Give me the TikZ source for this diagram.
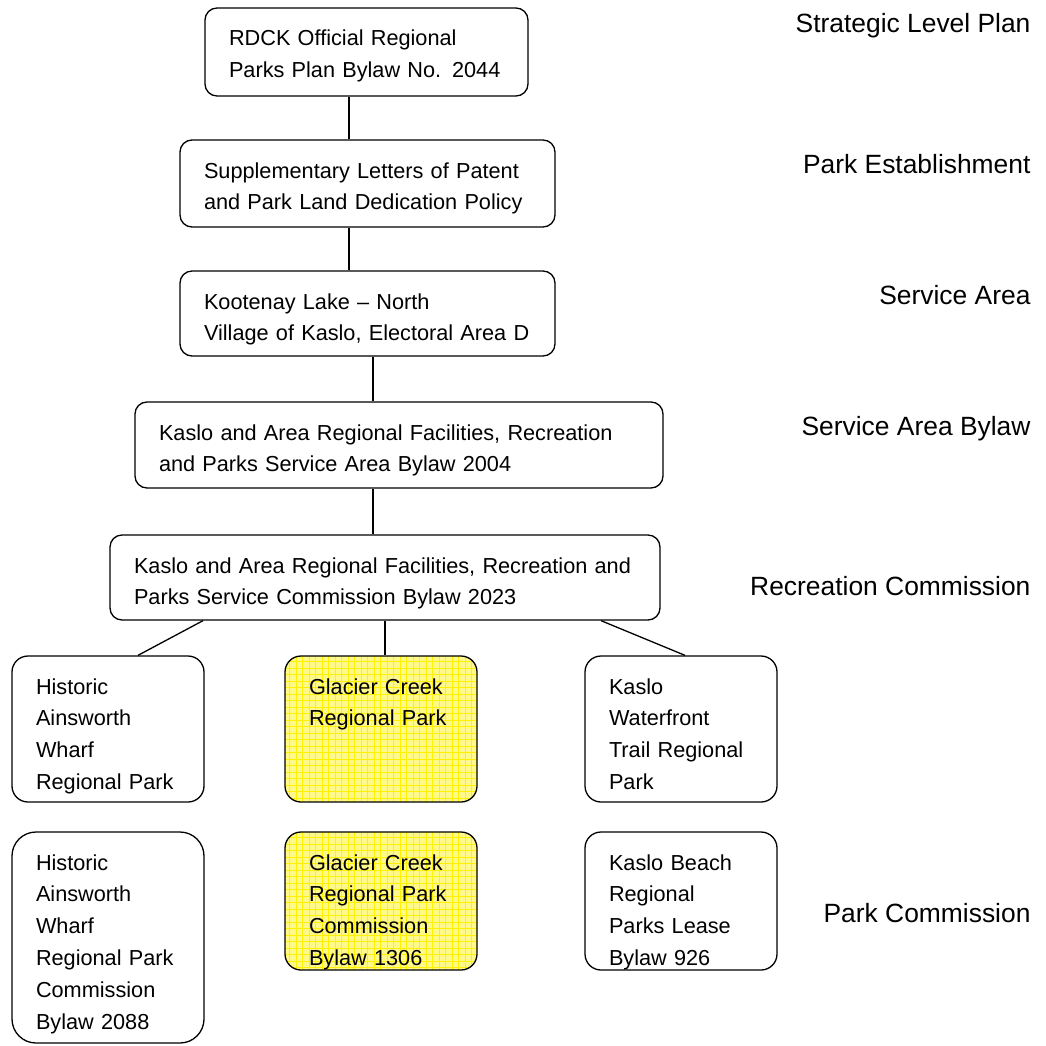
\documentclass[tikz,border=0pt]{standalone}
\usepackage{fontspec}
\setmainfont{Liberation Sans}
\usetikzlibrary{positioning}

\tikzset{
  box/.style={rectangle, draw, line width=1.3pt, rounded corners=12pt, align=left,
    inner xsep=24pt, inner ysep=18pt, text height=20pt,
    font=\fontsize{21.7}{31.8}\selectfont},
  park/.style={box, rounded corners=16pt, text width=144pt, text depth=90pt},
  hilite/.style={fill=yellow!45, path picture={
    \draw[yellow, line width=0.9pt] (path picture bounding box.south west)
      grid[step=6.5pt] (path picture bounding box.north east);}},
  level/.style={anchor=base east, font=\fontsize{26.4}{32}\selectfont},
}

\begin{document}
\begin{tikzpicture}[x=1pt, y=-1pt, on grid]
\useasboundingbox (0,0) rectangle (1046,1046);

% chain of plans and bylaws
\node (plan) [box, text width=275pt, text depth=32pt] at (366.5,52) {RDCK Official Regional\\Parks Plan Bylaw No. 2044};
\node (estab) [box, text width=327pt, text depth=31pt, below right=131.5pt and 1pt of plan] {Supplementary Letters of Patent\\and Park Land Dedication Policy};
\node (area) [box, text width=327pt, text depth=29pt, below=130pt of estab] {Kootenay Lake -- North\\Village of Kaslo, Electoral Area D};
\node (bylaw) [box, text width=480pt, text depth=30pt, below right=131.5pt and 31.5pt of area] {Kaslo and Area Regional Facilities, Recreation\\and Parks Service Area Bylaw 2004};
\node (comm) [box, text width=502pt, text depth=29pt, below left=132.5pt and 14pt of bylaw] {Kaslo and Area Regional Facilities, Recreation and\\Parks Service Commission Bylaw 2023};

% parks
\node (glacP) [park, hilite, below left=151.5pt and 4pt of comm] {Glacier Creek\\Regional Park};
\node (ainsP) [park, left=273pt of glacP] {Historic\\Ainsworth\\Wharf\\Regional Park};
\node (kasP) [park, right=300pt of glacP] {Kaslo\\Waterfront\\Trail Regional\\Park};

% park bylaws
\node (glacB) [park, hilite, text depth=82pt, below=172pt of glacP] {Glacier Creek\\Regional Park\\Commission\\Bylaw 1306};
\node (ainsB) [park, rounded corners=24pt, text depth=155pt, below=208.5pt of ainsP] {Historic\\Ainsworth\\Wharf\\Regional Park\\Commission\\Bylaw 2088};
\node (kasB) [park, text depth=82pt, below=172pt of kasP] {Kaslo Beach\\Regional\\Parks Lease\\Bylaw 926};

% levels
\node (lplan) [level] at (1034,33) {Strategic Level Plan};
\node (lestab) [level] at (1034,173) {Park Establishment};
\node (larea) [level] at (1034,304) {Service Area};
\node (lbylaw) [level] at (1034,435) {Service Area Bylaw};
\node (lcomm) [level] at (1034,595) {Recreation Commission};
\node (lpark) [level] at (1034,922) {Park Commission};

\coordinate (c1) at (349,0);
\coordinate (c2) at (373,0);
\coordinate (c3) at (385,0);
\coordinate (tl) at (203,0);
\coordinate (tr) at (601,0);
\coordinate (bl) at (138,0);
\coordinate (br) at (685,0);

\path [line width=1.3pt]
    (plan.south -| c1) edge (estab.north -| c1)
    (estab.south -| c1) edge (area.north -| c1)
    (area.south -| c2) edge (bylaw.north -| c2)
    (bylaw.south -| c2) edge (comm.north -| c2)

    (comm.south -| c3) edge (glacP.north -| c3)
    (comm.south -| tl) edge (ainsP.north -| bl)
    (comm.south -| tr) edge (kasP.north -| br);
\end{tikzpicture}
\end{document}
